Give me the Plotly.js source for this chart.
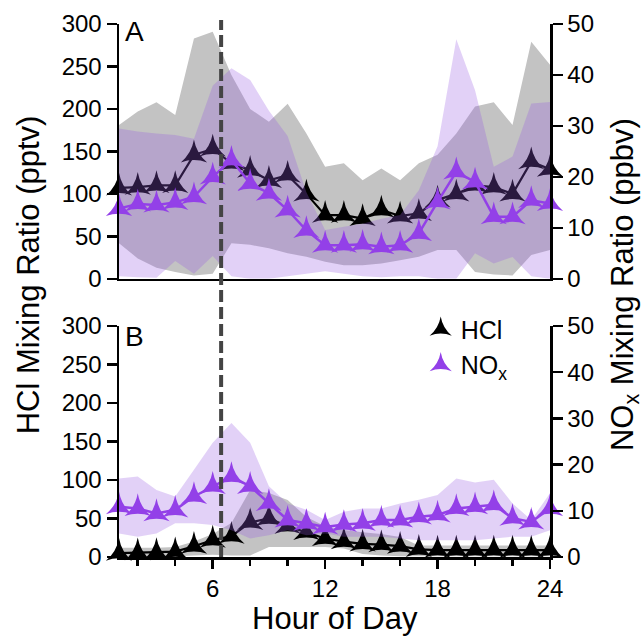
<!DOCTYPE html>
<html>
<head>
<meta charset="utf-8">
<script src="https://cdn.plot.ly/plotly-3.0.1.min.js"></script>
<style>html,body{margin:0;padding:0;background:#fff;}#chart{width:643px;height:637px;}</style>
</head>
<body>
<div id="chart"></div>
<script>
// ---- data ----
const hours = [1,2,3,4,5,6,7,8,9,10,11,12,13,14,15,16,17,18,19,20,21,22,23,24];

// Panel A
const hclA    = [107,108,110,110,146,153,136,128,116,122,100,75,75,71,81,74,77,93,100,110,108,100,138,129];
const hclA_hi = [181,197,208,193,283,291,240,200,185,206,171,132,136,116,130,116,136,146,171,203,208,181,279,252];
const hclA_lo = [42,24,13,8,4,6,42,40,36,30,26,20,16,16,18,22,26,34,34,8,5,4,28,34];
const noxA    = [13.8,14.7,14.5,15,16.1,20,23.3,18.7,16.8,13.5,9.5,6.6,6.6,6.8,6.3,6.6,8.9,15.1,21,19,12.2,12.2,15.4,14.8];
const noxA_hi = [29.5,28.9,28.5,28.2,27.5,37.9,41.3,39,33,28,17,9.6,10.2,10.8,11.8,12.5,17.4,26,47,37,22,24,34.4,34.7];
const noxA_lo = [0.5,0.3,0.2,3.5,1,4.5,0.5,0,0,0.5,1,1.5,1,0.5,0.3,0.5,0.5,0,0,5,3,4.3,0.5,0];

// Panel B
const hclB    = [5,5.5,6,7,14,22,27,45,50,40,32,24,20,17,16,14,10,9,9,9,9,9,9,9];
const hclB_hi = [12,12,12,13,20,30,44,87,83,74,52,40,35,32,30,26,15,15,15,15,15,15,15,15];
const hclB_lo = [1,1,1,1,2,3,2,2,13,13,13,13,11,4,2,1,1,1,1,1,1,1,1,1];
const noxB    = [10.9,10.5,9.4,10.2,13.1,15.3,17.4,15.3,11.6,8,7.3,6.5,7.05,7.3,8,8,8.7,9.1,10.5,10.9,11.3,8.4,7.6,10.5];
const noxB_hi = [17,17.4,14.5,13.1,18.9,24.7,29,24.7,15.3,11.6,10.2,8,9.8,10.5,10.5,11.6,12.4,13.4,17,16.1,16.7,11.6,8,13.8];
const noxB_lo = [5.1,4.4,5.1,7.3,7.3,6.9,5.8,4,4.7,5.8,4.7,5.1,4.4,4.4,4.4,4,3.6,3.6,3.6,3.6,4,4.4,4.4,5.8];

const sunrise = 6.45;
const xTickVals = [6,12,18,24];

// ---- styles ----
const HCL_COLOR = '#000000';
const NOX_COLOR = '#9340e8';
const GRAY_FILL = '#c3c3c3';
const NOX_FILL = 'rgba(150,90,225,0.28)';
const FONT = 'Arial, "Liberation Sans", sans-serif';
const MSIZE = 19;

function band(hi, lo, xa, ya, color) {
  return {
    x: hours.concat(hours.slice().reverse()),
    y: hi.concat(lo.slice().reverse()),
    xaxis: xa, yaxis: ya,
    type: 'scatter', mode: 'lines', fill: 'toself',
    fillcolor: color, line: {width: 0, color: 'rgba(0,0,0,0)'},
    hoverinfo: 'skip', showlegend: false
  };
}
function series(vals, xa, ya, color, lw) {
  return {
    x: hours, y: vals, xaxis: xa, yaxis: ya,
    type: 'scatter', mode: 'lines+markers',
    line: {color: color, width: lw},
    marker: {symbol: 'star-triangle-up', size: MSIZE, color: color},
    cliponaxis: false, showlegend: false
  };
}

const data = [
  band(hclA_hi, hclA_lo, 'x2', 'y3', GRAY_FILL),
  series(hclA, 'x2', 'y3', HCL_COLOR, 2.2),
  band(noxA_hi, noxA_lo, 'x2', 'y4', NOX_FILL),
  series(noxA, 'x2', 'y4', NOX_COLOR, 2.5),
  band(hclB_hi, hclB_lo, 'x', 'y', GRAY_FILL),
  series(hclB, 'x', 'y', HCL_COLOR, 2.2),
  band(noxB_hi, noxB_lo, 'x', 'y2', NOX_FILL),
  series(noxB, 'x', 'y2', NOX_COLOR, 2.5),
  {x: [null], y: [null], xaxis: 'x', yaxis: 'y', type: 'scatter', mode: 'markers', name: 'HCl',
   marker: {symbol: 'star-triangle-up', size: MSIZE, color: HCL_COLOR}, showlegend: true},
  {x: [null], y: [null], xaxis: 'x', yaxis: 'y', type: 'scatter', mode: 'markers', name: 'NO<sub>x</sub>',
   marker: {symbol: 'star-triangle-up', size: MSIZE, color: NOX_COLOR}, showlegend: true}
];

const axLine = {showline: true, linecolor: '#000', linewidth: 2.5, showgrid: false, zeroline: false, fixedrange: true};
const tickFont = {family: FONT, size: 24, color: '#000'};
const yLeft = Object.assign({}, axLine, {range: [0, 300], dtick: 50, tick0: 0, ticks: 'outside', ticklen: 10, tickwidth: 2.5, tickcolor: '#000', tickfont: tickFont});
const yRight = Object.assign({}, axLine, {range: [0, 50], dtick: 10, tick0: 0, ticks: 'outside', ticklen: 10, tickwidth: 2.5, tickcolor: '#000', tickfont: tickFont, side: 'right'});

const layout = {
  width: 643, height: 637,
  margin: {l: 118.5, r: 93, t: 24, b: 80.3, pad: 0},
  paper_bgcolor: '#fff', plot_bgcolor: 'rgba(0,0,0,0)',
  font: {family: FONT, color: '#000'},
  showlegend: true,
  legend: {x: 0.70, y: 0.47, xanchor: 'left', yanchor: 'top', bgcolor: 'rgba(0,0,0,0)',
           font: {family: FONT, size: 25, color: '#000'}, tracegroupgap: 0, itemsizing: 'trace'},
  xaxis: Object.assign({}, axLine, {domain: [0, 1], anchor: 'y', range: [1, 24],
    tickvals: xTickVals, ticks: 'outside', ticklen: 9, tickwidth: 2.5, tickcolor: '#000', tickfont: tickFont,
    minor: {tickvals: [2,4,8,10,14,16,20,22], ticks: 'outside', ticklen: 6, tickwidth: 2.5, tickcolor: '#000'}}),
  xaxis2: Object.assign({}, axLine, {domain: [0, 1], anchor: 'y3', range: [1, 24], ticks: '', showticklabels: false}),
  yaxis: Object.assign({}, yLeft, {domain: [0, 0.4336], anchor: 'x'}),
  yaxis2: Object.assign({}, yRight, {overlaying: 'y', anchor: 'x'}),
  yaxis3: Object.assign({}, yLeft, {domain: [0.5219, 1], anchor: 'x2'}),
  yaxis4: Object.assign({}, yRight, {overlaying: 'y3', anchor: 'x2'}),
  shapes: [{type: 'line', xref: 'x', yref: 'paper', x0: sunrise, x1: sunrise, y0: 0, y1: 1.0075,
            line: {color: '#444', width: 4, dash: '12px,5px'}, layer: 'above'}],
  annotations: [
    {text: 'Hour of Day', xref: 'paper', yref: 'paper', x: 0.5, y: -0.115, xanchor: 'center', yanchor: 'middle',
     showarrow: false, font: {family: FONT, size: 31, color: '#000'}},
    {text: 'HCl Mixing Ratio (pptv)', xref: 'paper', yref: 'paper', x: -0.2097, y: 0.5297, xanchor: 'center', yanchor: 'middle',
     textangle: -90, showarrow: false, font: {family: FONT, size: 31, color: '#000'}},
    {text: 'NO<sub>x</sub> Mixing Ratio (ppbv)', xref: 'paper', yref: 'paper', x: 1.174, y: 0.512, xanchor: 'center', yanchor: 'middle',
     textangle: -90, showarrow: false, font: {family: FONT, size: 31, color: '#000'}},
    {text: 'A', xref: 'paper', yref: 'paper', x: 0.036, y: 0.985, xanchor: 'center', yanchor: 'middle',
     showarrow: false, font: {family: FONT, size: 28, color: '#000'}},
    {text: 'B', xref: 'paper', yref: 'paper', x: 0.036, y: 0.414, xanchor: 'center', yanchor: 'middle',
     showarrow: false, font: {family: FONT, size: 28, color: '#000'}}
  ]
};

Plotly.newPlot('chart', data, layout, {displayModeBar: false, staticPlot: true});
</script>
</body>
</html>
